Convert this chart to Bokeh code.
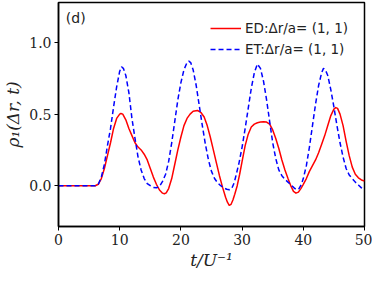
from bokeh.plotting import figure
from bokeh.models import Range1d, FixedTicker, Legend, LegendItem, Label
from bokeh.embed import file_html
from bokeh.resources import INLINE

# ED (exact diagonalization) series
t_ed = [0, 5, 6, 6.5, 7, 7.5, 8, 8.5, 9, 9.5, 10, 10.2, 10.5, 11, 11.5, 12, 12.5, 13, 13.5, 14,
        14.5, 15, 15.5, 16, 16.5, 17, 17.3, 17.6, 18, 18.5, 19, 19.5, 20, 20.5, 21, 21.5, 22, 22.7,
        23.3, 23.8, 24.3, 24.8, 25.3, 25.8, 26.3, 26.8, 27.3, 27.6, 27.9, 28.2, 28.5, 28.8, 29.2,
        29.6, 30, 30.5, 31, 31.5, 32, 32.5, 33, 33.5, 34, 34.5, 35, 35.5, 36, 36.5, 37, 37.5, 38,
        38.4, 38.8, 39.2, 39.6, 40, 40.5, 41, 41.5, 42, 42.5, 43, 43.5, 44, 44.5, 45, 45.3, 45.6,
        46, 46.5, 47, 47.5, 48, 48.5, 49, 49.5, 50]
rho_ed = [0, 0, 0, 0.01, 0.05, 0.12, 0.21, 0.30, 0.40, 0.47, 0.50, 0.505, 0.50, 0.46, 0.40, 0.35,
          0.30, 0.27, 0.25, 0.22, 0.18, 0.12, 0.06, 0.01, -0.03, -0.052, -0.056, -0.05, -0.02, 0.05,
          0.15, 0.25, 0.34, 0.42, 0.47, 0.50, 0.52, 0.526, 0.51, 0.48, 0.42, 0.34, 0.25, 0.16, 0.07,
          -0.01, -0.08, -0.115, -0.137, -0.13, -0.10, -0.06, 0.0, 0.08, 0.17, 0.28, 0.36, 0.41,
          0.43, 0.44, 0.445, 0.446, 0.445, 0.43, 0.39, 0.33, 0.26, 0.18, 0.11, 0.05, -0.005, -0.04,
          -0.052, -0.045, -0.02, 0.01, 0.05, 0.10, 0.14, 0.18, 0.23, 0.29, 0.35, 0.42, 0.49, 0.535,
          0.546, 0.54, 0.50, 0.42, 0.31, 0.21, 0.13, 0.08, 0.055, 0.04, 0.033]

# ET series
t_et = [0, 5, 6, 6.5, 7, 7.5, 8, 8.5, 9, 9.5, 10, 10.3, 10.6, 11, 11.5, 12, 12.5, 13, 13.5, 14,
        14.5, 15, 15.5, 16, 16.5, 17, 17.5, 18, 18.5, 19, 19.5, 20, 20.5, 21, 21.3, 21.6, 22, 22.5,
        23, 23.5, 24, 24.5, 25, 25.5, 26, 26.5, 27, 27.5, 27.9, 28.3, 28.7, 29, 29.5, 30, 30.5, 31,
        31.5, 32, 32.5, 33, 33.5, 34, 34.5, 35, 35.5, 36, 36.5, 37, 37.5, 38, 38.5, 38.9, 39.3,
        39.7, 40, 40.5, 41, 41.5, 42, 42.5, 43, 43.3, 43.6, 44, 44.5, 45, 45.5, 46, 46.5, 47, 47.5,
        48, 48.5, 49, 49.5, 50]
rho_et = [0, 0, 0, 0.01, 0.06, 0.15, 0.28, 0.40, 0.55, 0.69, 0.80, 0.83, 0.82, 0.77, 0.65, 0.47,
          0.33, 0.20, 0.11, 0.05, 0.015, 0.0, -0.012, -0.015, -0.005, 0.03, 0.08, 0.17, 0.30, 0.45,
          0.60, 0.72, 0.81, 0.86, 0.87, 0.86, 0.81, 0.70, 0.56, 0.42, 0.29, 0.18, 0.10, 0.05, 0.02,
          0.0, -0.015, -0.025, -0.028, -0.02, 0.02, 0.07, 0.16, 0.27, 0.40, 0.54, 0.68, 0.79, 0.85,
          0.82, 0.73, 0.60, 0.45, 0.30, 0.19, 0.11, 0.07, 0.045, 0.025, 0.005, -0.015, -0.028,
          -0.02, 0.01, 0.05, 0.14, 0.27, 0.42, 0.57, 0.70, 0.79, 0.82, 0.81, 0.77, 0.67, 0.55, 0.42,
          0.30, 0.20, 0.12, 0.075, 0.05, 0.025, 0.005, -0.015, -0.03]

x_ticks = [0, 10, 20, 30, 40, 50]
y_ticks = [0.0, 0.5, 1.0]
label_ed = "ED:Δr/a= (1, 1)"
label_et = "ET:Δr/a= (1, 1)"

SERIF = "DejaVu Serif"

p = figure(frame_width=306, frame_height=224, output_backend="svg", toolbar_location=None,
           x_range=Range1d(0, 50), y_range=Range1d(-0.285, 1.28),
           min_border_left=49, min_border_right=8, min_border_top=2, min_border_bottom=46)
p.background_fill_color = "white"
p.border_fill_color = "white"
p.outline_line_color = "black"
p.outline_line_width = 1.5
p.xgrid.visible = False
p.ygrid.visible = False

r_ed = p.line(t_ed, rho_ed, line_color="#ff0000", line_width=1.5, line_join="round")
r_et = p.line(t_et, rho_et, line_color="#0000ff", line_width=1.5, line_dash="5 3")

for ax in (p.xaxis[0], p.yaxis[0]):
    ax.axis_line_color = "black"
    ax.axis_line_width = 1.5
    ax.major_tick_out = 4
    ax.major_tick_in = 0
    ax.minor_tick_out = 0
    ax.minor_tick_in = 0
    ax.major_label_standoff = 3
    ax.major_label_text_font = SERIF
    ax.major_label_text_font_size = "14px"
    ax.major_label_text_color = "#222222"
    ax.axis_label_text_font = SERIF
    ax.axis_label_text_font_style = "italic"
    ax.axis_label_text_font_size = "17px"
    ax.axis_label_text_color = "#222222"

p.xaxis[0].ticker = FixedTicker(ticks=x_ticks)
p.yaxis[0].ticker = FixedTicker(ticks=y_ticks)
p.yaxis[0].major_label_overrides = {v: f"{v:.1f}" for v in y_ticks}
p.xaxis[0].axis_label = "t/U⁻¹"
p.yaxis[0].axis_label = "ρ₁(Δr, t)"
p.xaxis[0].axis_label_standoff = 2
p.yaxis[0].axis_label_standoff = 3

legend = Legend(items=[LegendItem(label=label_ed, renderers=[r_ed]),
                       LegendItem(label=label_et, renderers=[r_et])],
                location="top_right", border_line_alpha=0, background_fill_alpha=0,
                glyph_width=31, glyph_height=20, label_height=20, label_standoff=4,
                spacing=1, padding=0, margin=16,
                label_text_font="DejaVu Sans", label_text_font_size="13.5px",
                label_text_color="#222222")
p.add_layout(legend)

p.add_layout(Label(x=1.2, y=1.17, text="(d)", text_baseline="middle",
                   text_font="DejaVu Sans", text_font_size="14px",
                   text_color="#222222"))

open("out.html", "w").write(file_html(p, INLINE))
